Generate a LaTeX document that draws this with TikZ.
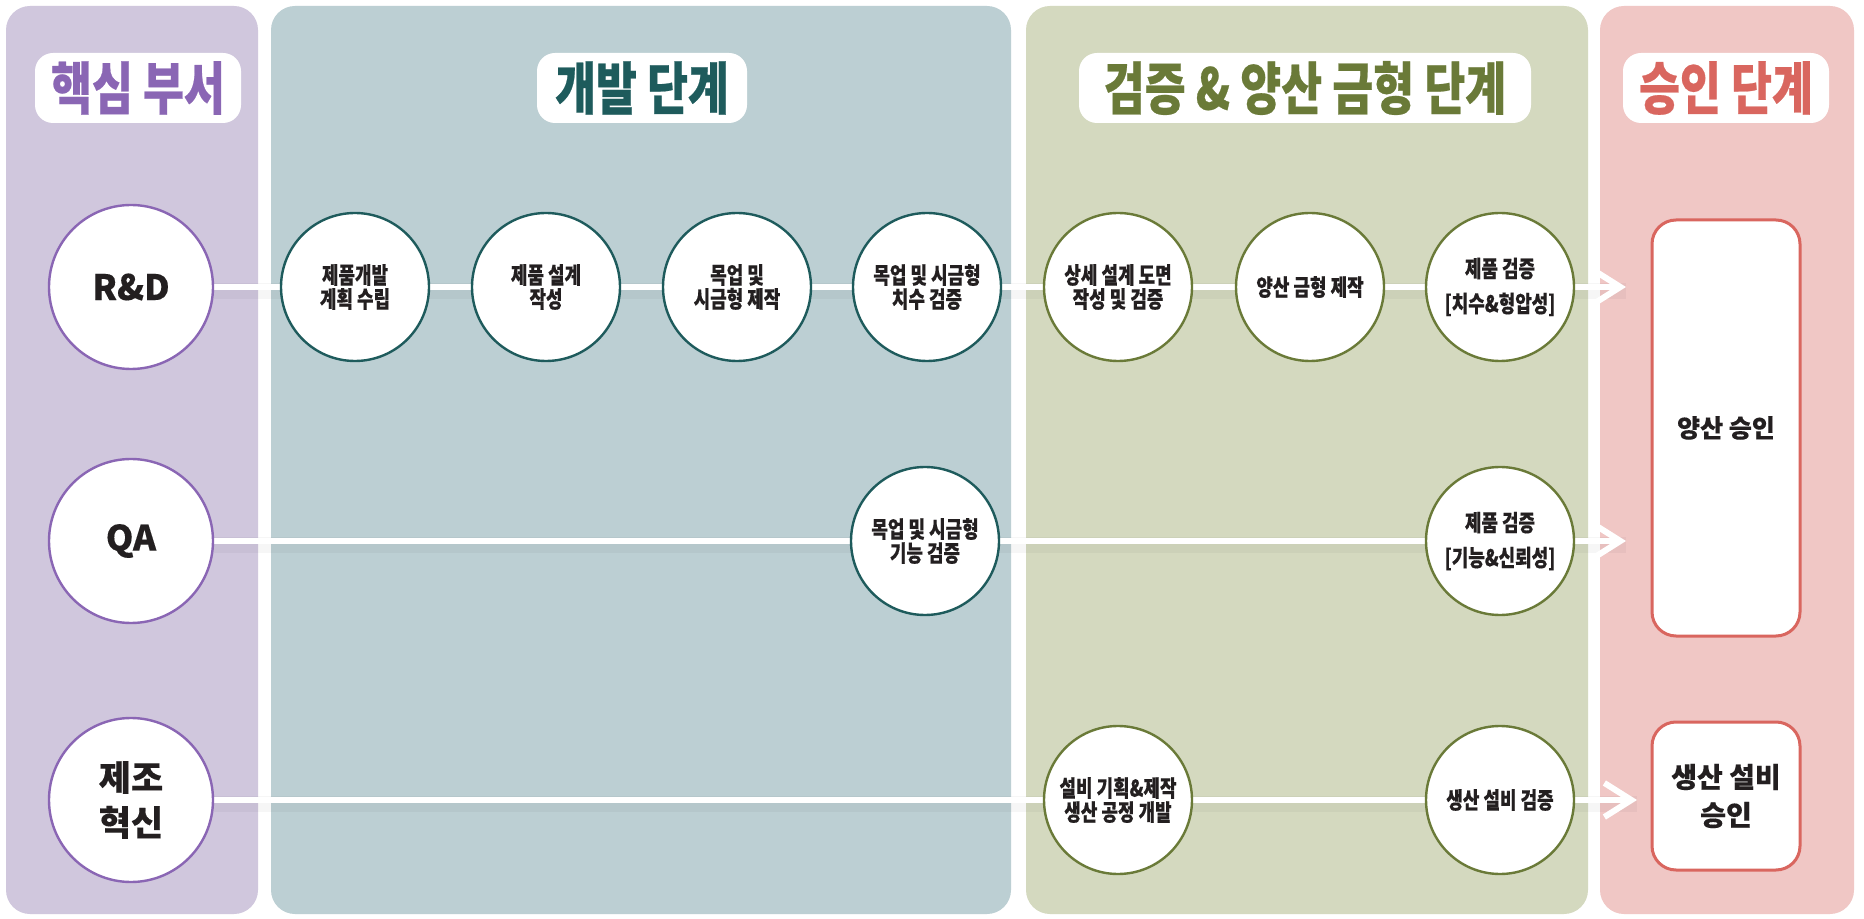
\documentclass[tikz,border=0pt]{standalone}
\usepackage{fontspec}
\setmainfont{Noto Sans CJK KR}[BoldFeatures={FakeBold=0.3}]
\newfontfamily\krcond{Noto Sans CJK KR}[FakeStretch=0.78,BoldFeatures={FakeBold=0.4}]
\usetikzlibrary{arrows.meta}

\definecolor{deptpurple}{HTML}{8A66B4}
\definecolor{devteal}{HTML}{1E5B5C}
\definecolor{chkolive}{HTML}{6A7A38}
\definecolor{okred}{HTML}{D9665F}
\definecolor{inkblack}{HTML}{231F20}
\definecolor{panelpurple}{HTML}{D0C7DD}
\definecolor{panelteal}{HTML}{BCCFD3}
\definecolor{panelolive}{HTML}{D4D9BF}
\definecolor{panelred}{HTML}{F0C7C5}

\pgfdeclarelayer{panels}
\pgfdeclarelayer{flows}
\pgfsetlayers{panels,flows,main}

\begin{document}
\begin{tikzpicture}[x=0.5pt,y=-0.5pt,
  header/.style={fill=white,rounded corners=9pt,minimum height=35pt,
    inner sep=0pt,font=\krcond\bfseries\fontsize{28.5}{30}\selectfont},
  dept/.style={circle,draw=deptpurple,line width=1.2pt,fill=white,
    minimum size=82pt,inner sep=0pt,align=center,text=inkblack,
    font=\bfseries\fontsize{17.5}{22.5}\selectfont},
  task/.style={circle,fill=white,line width=1.2pt,minimum size=74pt,
    inner sep=0pt,align=center,text=inkblack,
    font=\krcond\bfseries\fontsize{11.5}{12}\selectfont},
  devtask/.style={task,draw=devteal},
  chktask/.style={task,draw=chkolive},
  approve/.style={draw=okred,line width=1.5pt,fill=white,
    rounded corners=12pt,align=center,minimum width=74pt,inner sep=0pt,
    text=inkblack},
  flowline/.style={white,line width=3pt,
    -{Straight Barb[length=13.5pt,width=17pt]}},
  flowshade/.style={black,opacity=0.035,line width=8pt}]
  \useasboundingbox (0,0) rectangle (1864,919);

  % stage panels
  \begin{pgfonlayer}{panels}
    \fill[white] (0,0) rectangle (1864,919);
    \fill[panelpurple,rounded corners=12pt] (6,6) rectangle (258,914);
    \fill[panelteal,rounded corners=12pt] (271,6) rectangle (1011,914);
    \fill[panelolive,rounded corners=12pt] (1026,6) rectangle (1588,914);
    \fill[panelred,rounded corners=12pt] (1600,6) rectangle (1854,914);
  \end{pgfonlayer}

  % stage headers
  \node[header,text=deptpurple,minimum width=103pt] (hdept) at (138,88) {핵심 부서};
  \node[header,text=devteal,minimum width=105pt] (hdev) at (642,88) {개발 단계};
  \node[header,text=chkolive,minimum width=226pt] (hchk) at (1305,88) {검증 \& 양산 금형 단계};
  \node[header,text=okred,minimum width=103pt] (hok) at (1726,88) {승인 단계};

  % departments
  \node[dept] (rd) at (131,287) {R\&D};
  \node[dept] (qa) at (131,541) {QA};
  \node[dept] (mi) at (131,800) {제조\\혁신};

  % R&D row
  \node[devtask] (p1) at (355,287) {제품개발\\계획 수립};
  \node[devtask] (p2) at (546,287) {제품 설계\\작성};
  \node[devtask] (p3) at (737,287) {목업 및\\시금형 제작};
  \node[devtask] (p4) at (927,287) {목업 및 시금형\\치수 검증};
  \node[chktask] (p5) at (1118,287) {상세 설계 도면\\작성 및 검증};
  \node[chktask] (p6) at (1310,287) {양산 금형 제작};
  \node[chktask] (p7) at (1500,287) {제품 검증\\[5.5pt][치수\&형압성]};

  % QA row
  \node[devtask] (q1) at (925,541) {목업 및 시금형\\기능 검증};
  \node[chktask] (q2) at (1500,541) {제품 검증\\[5.5pt][기능\&신뢰성]};

  % manufacturing row
  \node[chktask] (m1) at (1118,800) {설비 기획\&제작\\생산 공정 개발};
  \node[chktask] (m2) at (1500,800) {생산 설비 검증};

  % approvals
  \node[approve,minimum height=208pt,font=\bfseries\fontsize{12.5}{15}\selectfont]
    (ok1) at (1726,428) {양산 승인};
  \node[approve,minimum height=74pt,font=\bfseries\fontsize{14}{19}\selectfont]
    (ok2) at (1726,796) {생산 설비\\승인};

  \coordinate (t1) at (1626,287);
  \coordinate (t2) at (1626,541);
  \coordinate (t3) at (1637,800);

  % flow lines behind the circles
  \begin{pgfonlayer}{flows}
    \draw[flowshade] ([yshift=-2pt]rd.east) -- ([yshift=-2pt]t1);
    \draw[flowshade] ([yshift=-2pt]qa.east) -- ([yshift=-2pt]t2);
    \draw[flowshade] ([yshift=-2pt]mi.east) -- ([yshift=-2pt]t3);
    \draw[flowline] (rd) -- (p1) -- (p2) -- (p3) -- (p4) -- (p5) -- (p6) -- (p7) -- (t1);
    \draw[flowline] (qa) -- (q1) -- (q2) -- (t2);
    \draw[flowline] (mi) -- (m1) -- (m2) -- (t3);
  \end{pgfonlayer}
\end{tikzpicture}
\end{document}
